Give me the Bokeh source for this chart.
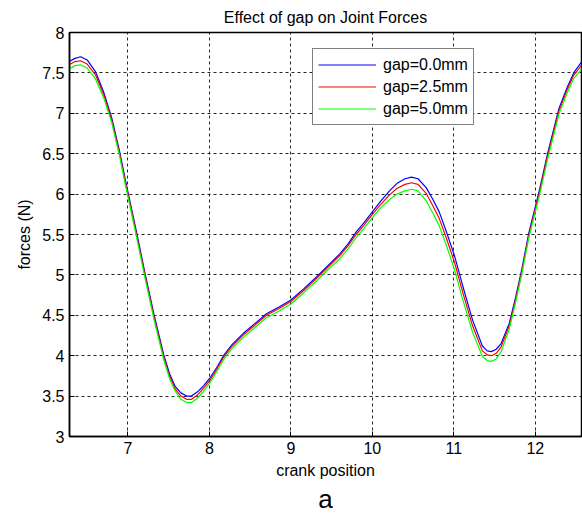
from bokeh.plotting import figure
from bokeh.models import Legend, LegendItem, Title, FixedTicker, CustomJSTickFormatter, Range1d
from bokeh.embed import file_html
from bokeh.resources import INLINE

# ---- data ----
crank = [6.28, 6.35, 6.42, 6.50, 6.60, 6.70, 6.80, 6.90, 6.97, 7.04, 7.11, 7.21, 7.32, 7.44,
         7.51, 7.58, 7.65, 7.72, 7.78, 7.85, 7.93, 8.01, 8.10, 8.18, 8.28, 8.42, 8.56, 8.70,
         8.85, 9.00, 9.16, 9.32, 9.46, 9.60, 9.70, 9.80, 9.90, 10.00, 10.10, 10.21, 10.30,
         10.40, 10.48, 10.56, 10.66, 10.74, 10.82, 10.91, 11.01, 11.11, 11.23, 11.35, 11.41,
         11.46, 11.52, 11.58, 11.68, 11.76, 11.84, 11.92, 12.05, 12.15, 12.29, 12.39, 12.47, 12.57]

gap_00 = [7.64, 7.68, 7.70, 7.66, 7.52, 7.27, 6.95, 6.52, 6.17, 5.84, 5.51, 5.02, 4.51, 4.01,
          3.78, 3.62, 3.54, 3.50, 3.50, 3.55, 3.63, 3.73, 3.87, 4.01, 4.14, 4.28, 4.40, 4.52,
          4.60, 4.69, 4.83, 4.98, 5.12, 5.26, 5.38, 5.53, 5.65, 5.78, 5.91, 6.04, 6.13,
          6.19, 6.21, 6.19, 6.08, 5.94, 5.78, 5.53, 5.23, 4.86, 4.44, 4.12, 4.06,
          4.05, 4.08, 4.15, 4.40, 4.73, 5.10, 5.52, 6.05, 6.50, 7.06, 7.32, 7.50, 7.64]

gap_25 = [7.60, 7.64, 7.65, 7.61, 7.48, 7.24, 6.92, 6.49, 6.14, 5.81, 5.48, 4.99, 4.48, 3.98,
          3.75, 3.59, 3.50, 3.46, 3.46, 3.51, 3.60, 3.70, 3.85, 3.99, 4.12, 4.26, 4.38, 4.50,
          4.58, 4.67, 4.81, 4.96, 5.10, 5.24, 5.36, 5.50, 5.62, 5.75, 5.87, 5.99, 6.07,
          6.12, 6.14, 6.12, 6.01, 5.86, 5.70, 5.45, 5.15, 4.78, 4.37, 4.06, 4.01,
          4.00, 4.03, 4.11, 4.37, 4.70, 5.07, 5.49, 6.02, 6.47, 7.03, 7.29, 7.47, 7.60]

gap_50 = [7.55, 7.59, 7.60, 7.56, 7.43, 7.20, 6.89, 6.46, 6.11, 5.78, 5.45, 4.96, 4.45, 3.95,
          3.72, 3.56, 3.46, 3.42, 3.42, 3.47, 3.56, 3.67, 3.82, 3.96, 4.09, 4.23, 4.35, 4.47,
          4.55, 4.64, 4.78, 4.93, 5.07, 5.20, 5.32, 5.46, 5.58, 5.71, 5.83, 5.93, 6.00,
          6.04, 6.06, 6.04, 5.92, 5.77, 5.61, 5.36, 5.06, 4.69, 4.29, 3.99, 3.94,
          3.93, 3.96, 4.05, 4.33, 4.67, 5.04, 5.46, 5.98, 6.43, 6.99, 7.25, 7.43, 7.55]

series_labels = ["gap=0.0mm", "gap=2.5mm", "gap=5.0mm"]
series_colors = ["#0000ff", "#ff0000", "#00ff00"]

x_ticks = [7, 8, 9, 10, 11, 12]
y_ticks = [3, 3.5, 4, 4.5, 5, 5.5, 6, 6.5, 7, 7.5, 8]
x_start, x_end = 6.2832, 12.5664
y_start, y_end = 3, 8

FONT = "Liberation Sans"

p = figure(width=582, height=513, output_backend="svg", toolbar_location=None,
           x_range=Range1d(x_start, x_end), y_range=Range1d(y_start, y_end),
           min_border_left=69, min_border_right=1, min_border_top=32, min_border_bottom=76,
           background_fill_color="white", border_fill_color="white")

p.title.text = "Effect of gap on Joint Forces"
p.title.align = "center"
p.title.text_font = FONT
p.title.text_font_size = "16px"
p.title.text_font_style = "normal"
p.title.text_color = "black"
p.title.standoff = 13

renderers = []
for ys, c in zip([gap_00, gap_25, gap_50], series_colors):
    r = p.line(crank, ys, line_color=c, line_width=1.2)
    renderers.append(r)

# axes
for ax in (p.xaxis[0], p.yaxis[0]):
    ax.major_label_text_font = FONT
    ax.major_label_text_font_size = "16px"
    ax.major_label_text_color = "black"
    ax.axis_label_text_font = FONT
    ax.axis_label_text_font_size = "16px"
    ax.axis_label_text_font_style = "normal"
    ax.axis_label_text_color = "black"
    ax.axis_line_color = "black"
    ax.axis_line_width = 1.5
    ax.major_tick_in = 5
    ax.major_tick_out = 0
    ax.major_tick_line_color = "black"
    ax.minor_tick_line_color = None
    ax.formatter = CustomJSTickFormatter(code="return String(tick);")

p.xaxis[0].ticker = FixedTicker(ticks=x_ticks)
p.yaxis[0].ticker = FixedTicker(ticks=y_ticks)
p.xaxis[0].axis_label = "crank position"
p.yaxis[0].axis_label = "forces (N)"
p.xaxis[0].major_label_standoff = 5
p.yaxis[0].major_label_standoff = 5
p.xaxis[0].axis_label_standoff = 5
p.yaxis[0].axis_label_standoff = 6

p.add_layout(Title(text="a", align="center", text_font=FONT, text_font_size="26px",
                   text_font_style="normal", text_color="black", standoff=0), "below")

# grid
for g in (p.xgrid[0], p.ygrid[0]):
    g.grid_line_color = "black"
    g.grid_line_alpha = 0.85
    g.grid_line_dash = "3 3"
    g.grid_line_width = 1
p.xgrid[0].ticker = FixedTicker(ticks=x_ticks)
p.ygrid[0].ticker = FixedTicker(ticks=y_ticks)

p.outline_line_color = "black"
p.outline_line_width = 1.5
p.outline_line_alpha = 1

legend = Legend(items=[LegendItem(label=l, renderers=[r]) for l, r in zip(series_labels, renderers)],
                location=(243, 311), orientation="vertical",
                label_text_font=FONT, label_text_font_size="16px", label_text_color="black",
                glyph_width=58, glyph_height=21, label_height=21, label_standoff=7,
                padding=5, spacing=1, margin=0,
                border_line_color="black", border_line_width=1.2,
                background_fill_color="white", background_fill_alpha=1)
p.add_layout(legend, "center")

open("out.html", "w").write(file_html(p, INLINE))
